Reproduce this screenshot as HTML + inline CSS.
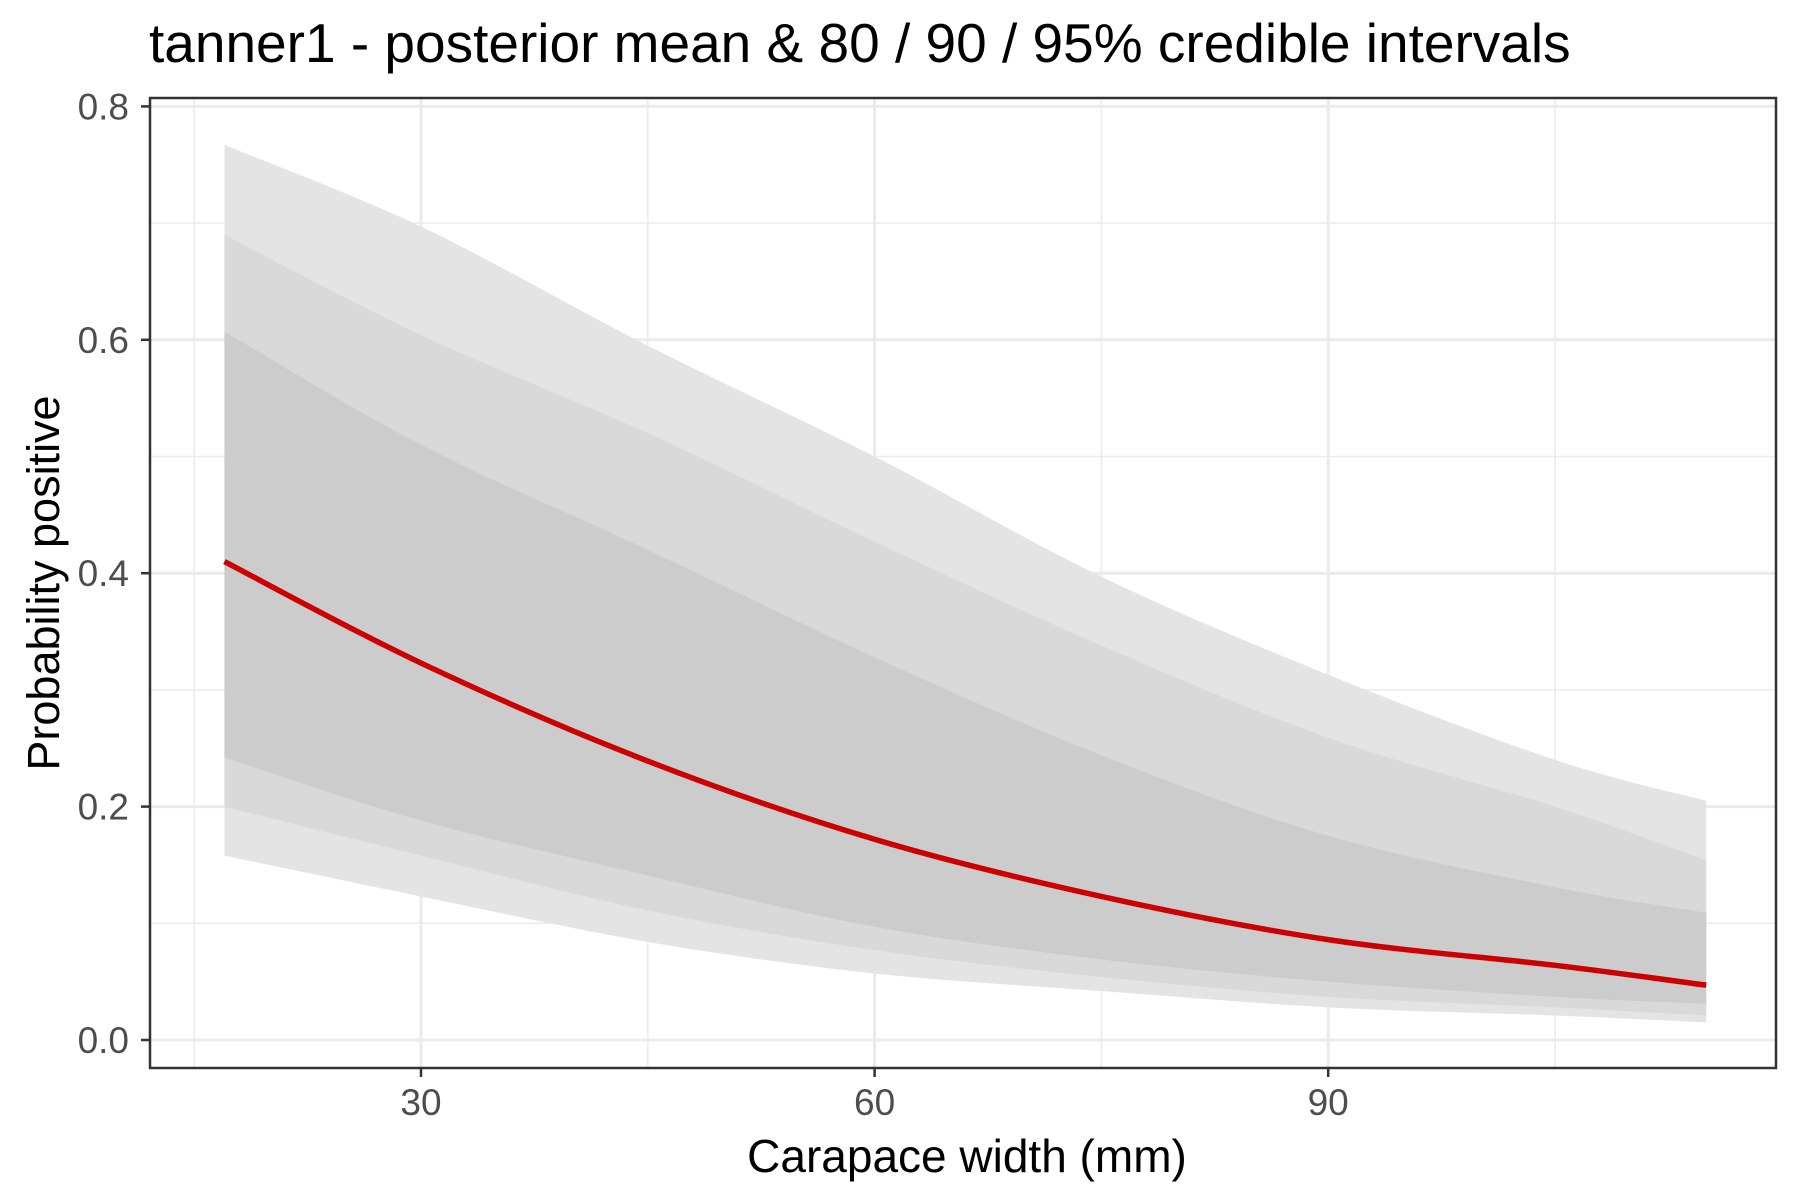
<!DOCTYPE html>
<html><head><meta charset="utf-8"><style>
html,body{margin:0;padding:0;background:#fff;}
svg{display:block;font-family:"Liberation Sans",Arial,sans-serif;}
</style></head><body>
<svg id="chart" width="1800" height="1200" xmlns="http://www.w3.org/2000/svg">
<text x="149" y="62" font-size="55" fill="#000">tanner1 - posterior mean &amp; 80 / 90 / 95% credible intervals</text>
<g id="grid"></g>
<g id="bands"></g>
<g id="line"></g>
<rect x="150" y="98" width="1626" height="970" fill="none" stroke="#333" stroke-width="2.5"/>
<g id="axes"></g>
<text x="967" y="1172" font-size="46" text-anchor="middle" fill="#000">Carapace width (mm)</text>
<text transform="translate(59,583) rotate(-90)" font-size="45" text-anchor="middle" fill="#000">Probability positive</text>
</svg>
<script>
const xs = [17, 30, 45, 60, 75, 90, 105, 115];
const meanVals = [0.41, 0.323, 0.239, 0.172, 0.123, 0.086, 0.064, 0.047];
const up95 = [0.767, 0.697, 0.595, 0.50, 0.397, 0.313, 0.24, 0.205];
const lo95 = [0.158, 0.123, 0.084, 0.057, 0.042, 0.028, 0.021, 0.015];
const up90 = [0.69, 0.604, 0.52, 0.427, 0.338, 0.259, 0.20, 0.154];
const lo90 = [0.20, 0.158, 0.111, 0.077, 0.054, 0.037, 0.028, 0.021];
const up80 = [0.607, 0.51, 0.42, 0.328, 0.244, 0.175, 0.131, 0.109];
const lo80 = [0.242, 0.188, 0.141, 0.097, 0.069, 0.05, 0.037, 0.031];
const xTicks = [30, 60, 90];
const xMinor = [15, 45, 75, 105];
const yTicks = [0.0, 0.2, 0.4, 0.6, 0.8];
const yMinor = [0.1, 0.3, 0.5, 0.7];
const yTickLabels = ["0.0", "0.2", "0.4", "0.6", "0.8"];

const NS = "http://www.w3.org/2000/svg";
const X = v => 421 + (v - 30) * 15.12;
const Y = v => 1040 - v * 1167;
const PL = 150, PR = 1776, PT = 98, PB = 1068;
function mk(tag, attrs, parent) {
  const e = document.createElementNS(NS, tag);
  for (const k in attrs) e.setAttribute(k, attrs[k]);
  parent.appendChild(e);
  return e;
}
function smooth(pts, start) {
  let d = start ? 'M' + pts[0][0] + ',' + pts[0][1] : 'L' + pts[0][0] + ',' + pts[0][1];
  for (let i = 0; i < pts.length - 1; i++) {
    const p0 = pts[Math.max(0, i - 1)], p1 = pts[i], p2 = pts[i + 1], p3 = pts[Math.min(pts.length - 1, i + 2)];
    const c1 = [p1[0] + (p2[0] - p0[0]) / 6, p1[1] + (p2[1] - p0[1]) / 6];
    const c2 = [p2[0] - (p3[0] - p1[0]) / 6, p2[1] - (p3[1] - p1[1]) / 6];
    d += 'C' + c1[0] + ',' + c1[1] + ' ' + c2[0] + ',' + c2[1] + ' ' + p2[0] + ',' + p2[1];
  }
  return d;
}
const grid = document.getElementById('grid');
xMinor.forEach(v => {
  const l = mk('line', {x1: X(v), x2: X(v), y1: PT, y2: PB, stroke: '#ebebeb', 'stroke-width': 1.5}, grid);
  
  
});
yMinor.forEach(v => {
  const l = mk('line', {x1: PL, x2: PR, y1: Y(v), y2: Y(v), stroke: '#ebebeb', 'stroke-width': 1.5}, grid);
  
  
});
xTicks.forEach(v => {
  const l = mk('line', {x1: X(v), x2: X(v), y1: PT, y2: PB, stroke: '#ebebeb', 'stroke-width': 3}, grid);
  
  
});
yTicks.forEach(v => {
  const l = mk('line', {x1: PL, x2: PR, y1: Y(v), y2: Y(v), stroke: '#ebebeb', 'stroke-width': 3}, grid);
  
  
});
const bands = document.getElementById('bands');
function band(up, lo, fill, name) {
  const top = xs.map((x, i) => [X(x), Y(up[i])]);
  const bot = xs.map((x, i) => [X(x), Y(lo[i])]).reverse();
  const d = smooth(top, true) + smooth(bot, false) + 'Z';
  const p = mk('path', {d: d, fill: fill}, bands);
  
  
}
band(up95, lo95, '#e4e4e4', 'band-95');
band(up90, lo90, '#d9d9d9', 'band-90');
band(up80, lo80, '#cccccc', 'band-80');
const lineG = document.getElementById('line');
const ml = mk('path', {d: smooth(xs.map((x, i) => [X(x), Y(meanVals[i])]), true), fill: 'none', stroke: '#cc0000', 'stroke-width': 5.5}, lineG);


const axes = document.getElementById('axes');
xTicks.forEach(v => {
  const t = mk('line', {x1: X(v), x2: X(v), y1: PB, y2: PB + 9, stroke: '#333', 'stroke-width': 2.5}, axes);
  
  
  const tx = mk('text', {x: X(v), y: 1115, 'font-size': 37, 'text-anchor': 'middle', fill: '#4d4d4d'}, axes);
  tx.textContent = String(v);
  
  
});
yTicks.forEach((v, i) => {
  const t = mk('line', {x1: PL - 9, x2: PL, y1: Y(v), y2: Y(v), stroke: '#333', 'stroke-width': 2.5}, axes);
  
  
  const tx = mk('text', {x: 129, y: Y(v) + 13, 'font-size': 37, 'text-anchor': 'end', fill: '#4d4d4d'}, axes);
  tx.textContent = yTickLabels[i];
  
  
});
</script>
</body></html>
